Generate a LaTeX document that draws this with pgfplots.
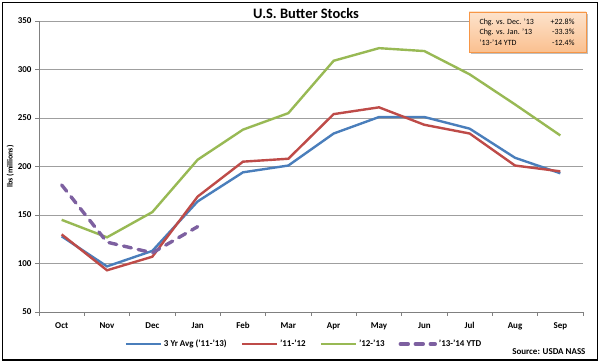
\documentclass[border=0pt]{standalone}
\usepackage{pgfplots}
\pgfplotsset{compat=1.18}
\usepackage{fontspec}
\setmainfont{Carlito}
\definecolor{cblue}{HTML}{4A7EBB}
\definecolor{cred}{HTML}{BE4B48}
\definecolor{cgreen}{HTML}{98B954}
\definecolor{cpurple}{HTML}{7D60A0}
\definecolor{boxtop}{HTML}{FDE3CC}
\definecolor{boxbot}{HTML}{FAC090}
\definecolor{boxedge}{HTML}{F79646}
\begin{document}
\begin{tikzpicture}
\path[use as bounding box] (0bp,0bp) rectangle (600bp,363bp);
\draw[black, line width=1.2bp] (2.5bp,3bp) rectangle (597.5bp,360.5bp);
\begin{axis}[
  at={(39bp,51bp)}, anchor=south west,
  scale only axis, width=544bp, height=291bp,
  xmin=-0.5, xmax=11.5, ymin=50, ymax=350,
  ytick={50,100,...,350},
  xtick={0,...,11},
  xticklabels={Oct,Nov,Dec,Jan,Feb,Mar,Apr,May,Jun,Jul,Aug,Sep},
  minor xtick={-0.5,0.5,...,11.5},
  major x tick style={draw=none},
  minor x tick style={gray, line width=0.6bp},
  y tick style={gray, line width=0.6bp},
  tick align=outside,
  major tick length=4bp, minor tick length=4bp,
  axis x line*=bottom, axis y line*=left,
  axis line style={gray, line width=0.8bp},
  ymajorgrids, grid style={gray!75, line width=0.8bp},
  /pgf/number format/assume math mode=true,
  tick label style={font=\fontsize{9}{10.5}\selectfont\bfseries},
  xticklabel style={yshift=-3bp},
  ylabel={lbs (millions)},
  ylabel style={font=\fontsize{8}{9.5}\selectfont\bfseries, at={(axis description cs:-0.053,0.5)}, anchor=center},
  legend columns=4,
  legend style={draw=none, fill=none, at={(axis description cs:0.487,-0.11)}, anchor=center,
    font=\fontsize{9}{10.5}\selectfont\bfseries,
    /tikz/every even column/.append style={column sep=12bp}},
  legend image code/.code={\draw[#1] (0bp,0bp) -- (35bp,0bp);},
]
\addplot[cblue, line width=2.4bp] coordinates {(0,128) (1,97) (2,113) (3,164) (4,194) (5,201) (6,234) (7,251) (8,251) (9,239) (10,209) (11,193)};
\addlegendentry{3 Yr Avg ('11-'13)}
\addplot[cred, line width=2.4bp] coordinates {(0,130) (1,93) (2,107) (3,169) (4,205) (5,208) (6,254) (7,261) (8,243) (9,234) (10,201) (11,195)};
\addlegendentry{'11-'12}
\addplot[cgreen, line width=2.4bp] coordinates {(0,145) (1,127) (2,153) (3,207) (4,238) (5,255) (6,309) (7,322) (8,319) (9,295) (10,264) (11,232)};
\addlegendentry{'12-'13}
\addplot[cpurple, line width=3.4bp, line cap=round, dash pattern=on 8bp off 7bp] coordinates {(0,181) (1,122) (2,111) (3,138)};
\addlegendentry{'13-'14 YTD}
\end{axis}
\node[font=\fontsize{14.5}{17}\selectfont\bfseries] at (306bp,349.5bp) {U.S. Butter Stocks};
\node[anchor=east, font=\fontsize{9}{10.5}\selectfont\bfseries] at (589bp,11bp) {Source: USDA NASS};
\fill[black!25] (471bp,309bp) rectangle (588bp,349bp);
\shade[top color=boxtop, bottom color=boxbot, draw=boxedge, line width=0.8bp] (469bp,311bp) rectangle (586bp,351bp);
\node[anchor=west, font=\fontsize{8}{10.5}\selectfont, align=left] at (476bp,331bp) {Chg. vs. Dec. '13\\Chg. vs. Jan. '13\\'13-'14 YTD};
\node[anchor=east, font=\fontsize{8}{10.5}\selectfont, align=right] at (578bp,331bp) {+22.8\%\\-33.3\%\\-12.4\%};
\end{tikzpicture}
\end{document}
